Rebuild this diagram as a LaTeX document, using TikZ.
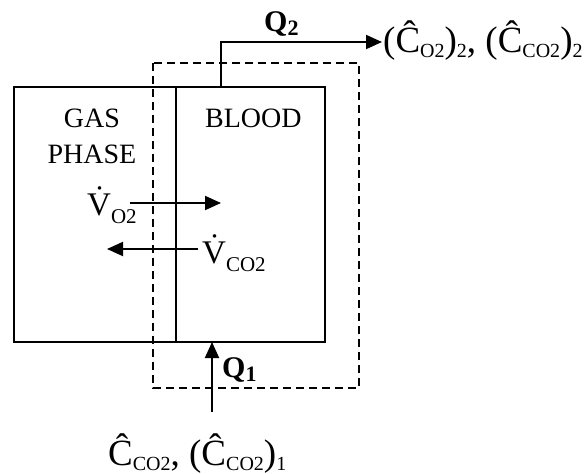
\documentclass[tikz,border=0pt]{standalone}
\usepackage{fontspec}
\setmainfont{Liberation Serif}
\usetikzlibrary{arrows.meta}
\newcommand{\bigsz}{\fontsize{37}{40}\selectfont}
\newcommand{\subsz}[1]{\raisebox{-5pt}{\fontsize{20}{21}\selectfont #1}}
\newcommand{\qsub}[1]{\raisebox{-4pt}{\fontsize{22}{23}\selectfont\bfseries #1}}
\newcommand{\vsub}[1]{\raisebox{-8pt}{\fontsize{21}{22}\selectfont #1}}
\begin{document}
\begin{tikzpicture}[x=1pt,y=-1pt,
  solidline/.style={line width=1.8pt},
  dashline/.style={line width=1.6pt, dash pattern=on 8pt off 5pt},
  arr/.style={line width=1.9pt, -{Triangle[length=16pt,width=14pt]}},
  lbl/.style={inner sep=0pt, anchor=base west, font=\fontsize{28}{32}\selectfont},
  clbl/.style={inner sep=0pt, anchor=base, font=\fontsize{28}{32}\selectfont}]
\useasboundingbox (0,0) rectangle (584,474);
% boxes
\coordinate (gasNW) at (14,87);
\coordinate (divN) at (176,87);
\coordinate (divS) at (176,342);
\coordinate (bloodSE) at (325,342);
\draw[solidline] (gasNW) rectangle (bloodSE);
\draw[solidline] (divN) -- (divS);
% control volume
\coordinate (cvNW) at (153,63);
\coordinate (cvSE) at (359,388);
\draw[dashline] (cvNW) rectangle (cvSE);
% labels in boxes
\node[clbl] (gas) at (92,127) {GAS};
\node[clbl] (phase) at (92,163) {PHASE};
\node[lbl] (blood) at (205,127) {BLOOD};
% flux arrows
\node[lbl, font=\fontsize{33}{36}\selectfont] (vo2) at (87,215) {\.{V}\vsub{O2}};
\coordinate (vo2s) at (130,203);
\coordinate (vo2e) at (221,203);
\draw[arr] (vo2s) -- (vo2e);
\node[lbl, font=\fontsize{33}{36}\selectfont] (vco2) at (202,263) {\.{V}\vsub{CO2}};
\coordinate (vco2s) at (198,249);
\coordinate (vco2e) at (107,249);
\draw[arr] (vco2s) -- (vco2e);
% outflow
\coordinate (q2s) at (221,87);
\coordinate (q2e) at (382,42);
\draw[arr] (q2s) |- (q2e);
\node[lbl, font=\fontsize{30}{32}\selectfont\bfseries] (q2) at (264,31) {Q\qsub{2}};
\node[lbl, font=\bigsz] (out) at (383,52) {(Ĉ\subsz{O2})\subsz{2}, (Ĉ\subsz{CO2})\subsz{2}};
% inflow
\coordinate (q1s) at (212,412);
\coordinate (q1e) at (212,342);
\draw[arr] (q1s) -- (q1e);
\node[lbl, font=\fontsize{30}{32}\selectfont\bfseries] (q1) at (222,377) {Q\qsub{1}};
\node[lbl, font=\bigsz] (inp) at (108,465) {Ĉ\subsz{CO2}, (Ĉ\subsz{CO2})\subsz{1}};
\end{tikzpicture}
\end{document}
